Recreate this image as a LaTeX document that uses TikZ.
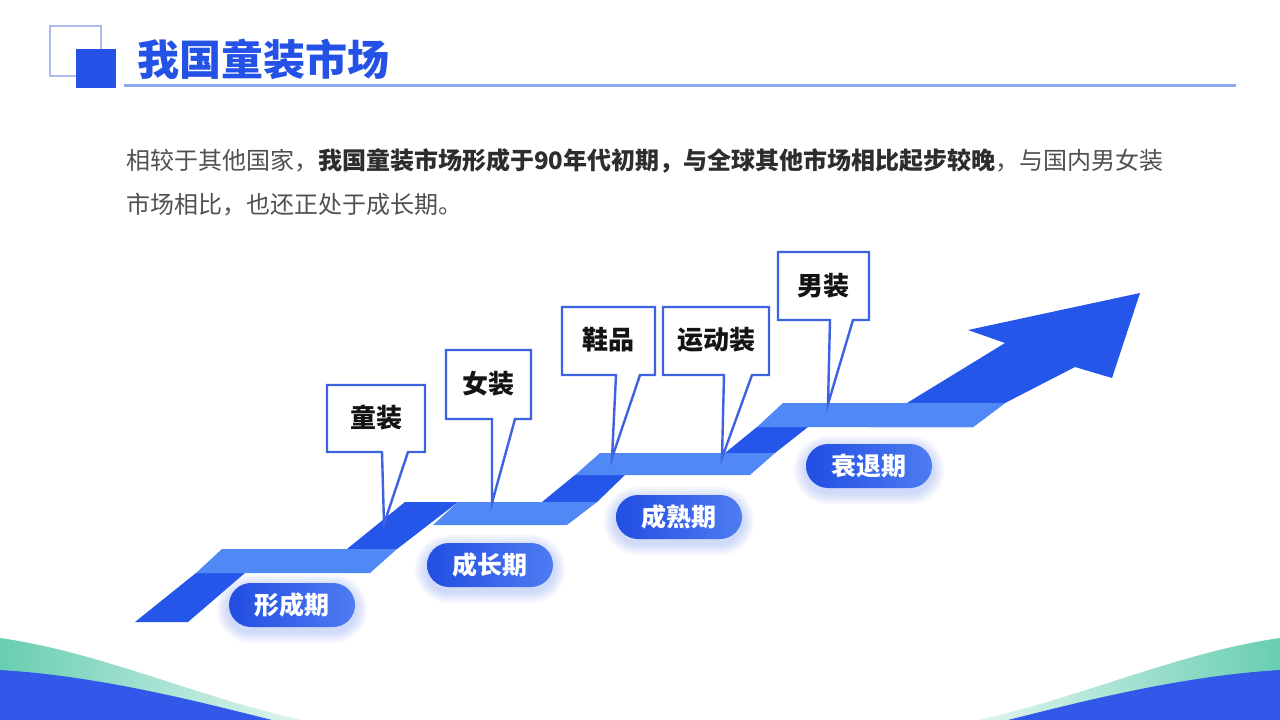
\documentclass[tikz,border=0pt]{standalone}
\usepackage{fontspec}
\setmainfont{Noto Sans CJK SC}
\definecolor{darkb}{RGB}{36,86,234}
\definecolor{lightb}{RGB}{80,136,245}
\definecolor{boxline}{RGB}{62,98,226}
\definecolor{titleb}{RGB}{37,82,230}
\definecolor{lineb}{RGB}{143,166,240}
\definecolor{sqline}{RGB}{172,186,238}
\definecolor{swoosh}{RGB}{104,206,178}
\definecolor{botblue}{RGB}{50,88,234}
\definecolor{paragrey}{RGB}{80,80,80}
\definecolor{parabold}{RGB}{45,45,45}
\definecolor{pillL}{RGB}{34,78,226}
\definecolor{pillR}{RGB}{78,124,242}
\definecolor{glowc}{RGB}{110,140,240}
\begin{document}
\begin{tikzpicture}[x=1pt,y=-1pt,
  darkband/.style={fill=darkb},
  lightband/.style={fill=lightb},
  callout/.style={draw=boxline, line width=2.4pt, fill=white, line join=miter},
  callouttext/.style={inner sep=0, text=black!92, font=\fontsize{26}{30}\selectfont\bfseries},
  pill/.style={rounded corners=22pt, minimum width=126pt, minimum height=44pt, inner sep=0,
     left color=pillL, right color=pillR, text=white, font=\fontsize{25}{30}\selectfont\bfseries},
  para/.style={anchor=west, inner sep=0, text=paragrey, font=\fontsize{24}{28}\selectfont}]
\useasboundingbox (0,0) rectangle (1280,720);
\fill[white] (0,0) rectangle (1280,720);

% bottom swooshes
\shade[left color=swoosh, right color=swoosh!20!white] (0,638) .. controls (100,652) and (200,698) .. (302,720) -- (0,720) -- cycle;
\fill[botblue] (0,670) .. controls (100,676) and (200,702) .. (272,720) -- (0,720) -- cycle;
\shade[right color=swoosh, left color=swoosh!20!white] (1280,638) .. controls (1180,652) and (1080,698) .. (978,720) -- (1280,720) -- cycle;
\fill[botblue] (1280,670) .. controls (1180,676) and (1080,702) .. (1008,720) -- (1280,720) -- cycle;

% title
\draw[sqline, line width=2pt] (50,26) rectangle (101,76);
\fill[titleb] (76,49) rectangle (116,88);
\draw[lineb, line width=3pt] (124,85) -- (1236,85);
\node[anchor=west, inner sep=0, text=titleb, font=\fontsize{42}{48}\selectfont\bfseries] (title) at (137,59) {我国童装市场};

% paragraph
\node[para] (p1) at (126,161) {相较于其他国家，{\bfseries\color{parabold}我国童装市场形成于90年代初期，与全球其他市场相比起步较晚}，与国内男女装};
\node[para] (p2) at (126,205) {市场相比，也还正处于成长期。};

% staircase arrow
\fill[darkband] (135,622) -- (188,622) -- (245,573) -- (196,573) -- cycle;
\fill[darkband] (347,549) -- (397,549) -- (458,502) -- (405,502) -- cycle;
\fill[darkband] (542,502) -- (597,502) -- (625,475) -- (575,475) -- cycle;
\fill[darkband] (725,453) -- (775,453) -- (808,427) -- (757,427) -- cycle;
\fill[darkband] (870,427) -- (907,403) -- (1005,343) -- (968,330) -- (1140,293) -- (1112,378) -- (1075,367) -- (1005,403) -- (973,427) -- cycle;
\fill[lightband] (222,549) -- (397,549) -- (370,573) -- (196,573) -- cycle;
\fill[lightband] (458,502) -- (597,502) -- (567,525) -- (433,525) -- cycle;
\fill[lightband] (600,453) -- (775,453) -- (750,475) -- (575,475) -- cycle;
\fill[lightband] (783,403) -- (1005,403) -- (973,427) -- (757,427) -- cycle;

% callouts
\coordinate (t1) at (384,524);
\coordinate (t2) at (492,503);
\coordinate (t3) at (612,458);
\coordinate (t4) at (722,458);
\coordinate (t5) at (828,404);
\draw[callout] (327,385) -- (425,385) -- (425,452) -- (408,452) -- (t1) -- (382,452) -- (327,452) -- cycle;
\node[callouttext] (c1) at (376,418) {童装};
\draw[callout] (446,350) -- (531,350) -- (531,419) -- (515,419) -- (t2) -- (492,419) -- (446,419) -- cycle;
\node[callouttext] (c2) at (488,384) {女装};
\draw[callout] (562,307) -- (655,307) -- (655,375) -- (640,375) -- (t3) -- (616,375) -- (562,375) -- cycle;
\node[callouttext] (c3) at (608,340) {鞋品};
\draw[callout] (663,307) -- (769,307) -- (769,375) -- (752,375) -- (t4) -- (724,375) -- (663,375) -- cycle;
\node[callouttext] (c4) at (716,340) {运动装};
\draw[callout] (778,252) -- (869,252) -- (869,320) -- (853,320) -- (t5) -- (830,320) -- (778,320) -- cycle;
\node[callouttext] (c5) at (823,286) {男装};

% pills with glow
\foreach \cx/\cy/\nm/\txt in {292/605/s1/形成期, 490/565/s2/成长期, 679/517/s3/成熟期, 869/466/s4/衰退期}{
  \foreach \g in {1,...,6}{
    \fill[glowc, opacity=0.06, rounded corners={22pt+\g*2pt}]
      (\cx-63-2*\g, \cy-22-2*\g+4) rectangle (\cx+63+2*\g, \cy+22+2*\g+4);
  }
  \node[pill] (\nm) at (\cx,\cy) {\txt};
}
\end{tikzpicture}
\end{document}
